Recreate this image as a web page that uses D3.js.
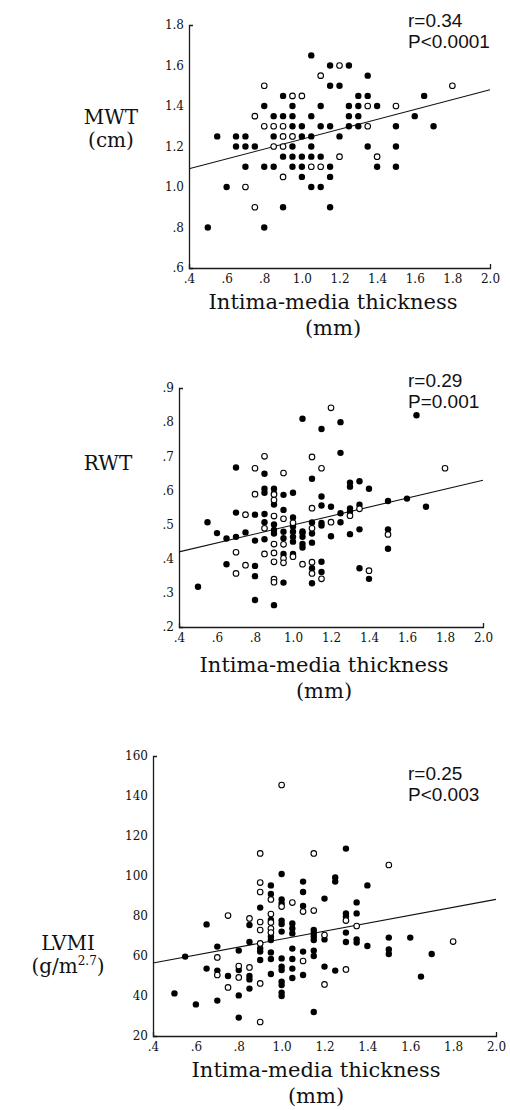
<!DOCTYPE html>
<html>
<head>
<meta charset="utf-8">
<script src="https://cdn.jsdelivr.net/npm/d3@7/dist/d3.min.js"></script>
<style>
  html, body { margin: 0; padding: 0; background: #fff; }
  svg { display: block; }
</style>
</head>
<body>
<svg id="chart" width="510" height="1110"></svg>
<script>
// ---------- DATA ----------
const xTickValues = [0.4, 0.6, 0.8, 1.0, 1.2, 1.4, 1.6, 1.8, 2.0];
const xTickLabels = [".4", ".6", ".8", "1.0", "1.2", "1.4", "1.6", "1.8", "2.0"];

const mwtTickValues = [0.6, 0.8, 1.0, 1.2, 1.4, 1.6, 1.8];
const mwtTickLabels = [".6", ".8", "1.0", "1.2", "1.4", "1.6", "1.8"];
const rwtTickValues = [0.2, 0.3, 0.4, 0.5, 0.6, 0.7, 0.8, 0.9];
const rwtTickLabels = [".2", ".3", ".4", ".5", ".6", ".7", ".8", ".9"];
const lvmiTickValues = [20, 40, 60, 80, 100, 120, 140, 160];
const lvmiTickLabels = ["20", "40", "60", "80", "100", "120", "140", "160"];

// MWT (cm) vs IMT (mm)
const mwtFilled = [
  [1.05,1.65],[1.15,1.6],[1.25,1.6],[1.35,1.55],[1.15,1.5],[1.2,1.5],
  [0.9,1.45],[1.3,1.45],[1.35,1.45],[1.65,1.45],
  [0.8,1.4],[0.95,1.4],[1.1,1.4],[1.25,1.4],[1.3,1.4],[1.4,1.4],
  [0.85,1.35],[0.9,1.35],[0.95,1.35],[1.05,1.35],[1.25,1.35],[1.3,1.35],[1.6,1.35],
  [0.95,1.3],[1.0,1.3],[1.1,1.3],[1.15,1.3],[1.25,1.3],[1.3,1.3],[1.5,1.3],[1.7,1.3],
  [0.55,1.25],[0.65,1.25],[0.7,1.25],[0.85,1.25],[1.0,1.25],[1.05,1.25],[1.2,1.25],
  [0.65,1.2],[0.7,1.2],[0.75,1.2],[0.95,1.2],[1.05,1.2],[1.35,1.2],[1.5,1.2],
  [0.9,1.15],[0.95,1.15],[1.0,1.15],[1.05,1.15],[1.1,1.15],
  [0.7,1.1],[0.8,1.1],[0.85,1.1],[0.95,1.1],[1.0,1.1],[1.15,1.1],[1.4,1.1],[1.5,1.1],
  [1.0,1.05],[1.15,1.05],[0.6,1.0],[1.05,1.0],[1.1,1.0],
  [0.9,0.9],[1.15,0.9],[0.5,0.8],[0.8,0.8]
];
const mwtOpen = [
  [1.2,1.6],[1.1,1.55],[0.8,1.5],[1.8,1.5],[0.95,1.45],[1.0,1.45],[1.35,1.4],[1.5,1.4],[0.75,1.35],
  [0.8,1.3],[0.85,1.3],[0.9,1.3],[1.35,1.3],[0.9,1.25],[0.95,1.25],[0.85,1.2],[0.9,1.2],
  [1.2,1.15],[1.4,1.15],[1.05,1.1],[1.1,1.1],[0.9,1.05],[0.7,1.0],[0.75,0.9]
];
const mwtFit = [[0.4, 1.09], [2.0, 1.48]];
const mwtStats = ["r=0.34", "P<0.0001"];

// RWT vs IMT
const rwtFilled = [
  [1.65,0.82],[1.05,0.81],[1.25,0.80],[1.15,0.78],[1.25,0.71],
  [0.7,0.667],[0.85,0.649],[1.1,0.634],[1.3,0.623],[1.35,0.627],[1.3,0.611],[1.4,0.605],
  [0.85,0.605],[0.9,0.605],[0.85,0.593],[0.9,0.591],[0.95,0.587],[1.0,0.593],[1.15,0.582],
  [0.9,0.559],[1.15,0.556],[1.2,0.552],[1.3,0.547],[1.35,0.558],[1.5,0.569],[1.6,0.576],[1.7,0.552],
  [1.3,0.538],[1.25,0.533],[0.7,0.535],[0.8,0.529],[0.85,0.531],[0.95,0.543],[1.0,0.521],
  [1.05,0.48],[1.1,0.506],[1.15,0.505],[1.15,0.497],[1.25,0.507],[0.55,0.507],
  [0.6,0.475],[0.65,0.459],[0.7,0.464],[0.75,0.477],[0.8,0.453],[0.85,0.507],[0.85,0.457],
  [0.9,0.5],[0.9,0.484],[0.9,0.474],[0.95,0.479],[0.95,0.46],[0.95,0.414],[0.95,0.33],
  [1.0,0.494],[1.0,0.479],[1.0,0.464],[1.0,0.45],[1.0,0.414],
  [1.05,0.476],[1.05,0.464],[1.05,0.443],[1.05,0.433],
  [1.1,0.474],[1.1,0.447],[1.1,0.372],[1.1,0.328],
  [1.15,0.391],[1.15,0.361],[1.2,0.466],[1.3,0.472],[1.35,0.486],[1.35,0.372],[1.4,0.341],
  [1.5,0.486],[1.5,0.429],[0.5,0.318],[0.65,0.384],[0.8,0.379],[0.8,0.349],[0.8,0.279],[0.9,0.264]
];
const rwtOpen = [
  [1.2,0.842],[0.85,0.70],[1.1,0.698],[0.8,0.665],[1.15,0.665],[1.8,0.665],[0.95,0.651],
  [0.8,0.589],[0.9,0.588],[0.9,0.572],[1.1,0.548],[1.35,0.546],[1.3,0.526],[0.75,0.529],[0.9,0.525],
  [0.95,0.517],[1.0,0.505],[1.2,0.507],[0.85,0.489],[0.9,0.443],[0.95,0.442],[0.95,0.401],[0.95,0.388],
  [1.0,0.406],[1.05,0.384],[1.1,0.489],[1.1,0.39],[1.1,0.357],[1.15,0.341],[1.4,0.365],[1.5,0.471],
  [0.7,0.419],[0.7,0.357],[0.75,0.381],[0.85,0.414],[0.9,0.417],[0.9,0.391],[0.9,0.34],[0.9,0.331]
];
const rwtFit = [[0.4, 0.42], [2.0, 0.63]];
const rwtStats = ["r=0.29", "P=0.001"];

// LVMI vs IMT
const lvmiFilled = [
  [1.3,113.7],[1.0,101],[1.25,99.3],[1.25,97.2],[1.1,97.2],[0.95,95.3],[1.4,95.3],[1.1,92],[0.95,91],
  [1.0,88.3],[1.2,88.7],[1.35,86.8],[1.0,86.3],[0.9,84.2],[1.1,85],[1.3,81.3],[1.35,81.3],[0.95,78],
  [1.3,79.7],[1.0,77.7],[1.0,76],[0.85,75.5],[1.05,76.3],[1.05,73.8],[1.05,71.3],[0.65,75.8],[1.0,72.2],
  [1.15,73],[1.15,71.3],[1.15,69.7],[1.15,68],[1.2,68.3],[1.3,71.7],[1.3,67],[1.35,68.3],[1.35,66.7],
  [0.95,69.7],[0.95,68],[1.5,69.2],[1.6,69.2],[1.4,65],[0.85,67],[0.9,63.8],[0.9,62.2],[1.5,63.3],[1.5,61],
  [1.7,61],[0.55,59.7],[0.7,64.7],[0.8,62.7],[0.9,58],[0.95,61.8],[0.95,58.5],[1.0,58.8],[1.05,63.7],[1.05,58.5],
  [1.1,62.2],[1.15,62.7],[1.15,60],[0.65,53.7],[0.7,52.7],[0.75,50],[0.8,53],[0.85,50],[0.85,48.3],[0.95,51],
  [1.0,54.7],[1.0,53],[1.05,53.7],[1.1,50.5],[1.05,49],[1.2,54.7],[1.25,52.7],[1.65,49.7],[0.85,43.7],
  [1.0,47.2],[1.0,45.5],[1.0,41.7],[1.0,40],[0.5,41.3],[0.8,40.3],[0.6,35.8],[0.7,37.7],[0.8,29.2],[1.15,32]
];
const lvmiOpen = [
  [1.0,145.5],[0.9,111.3],[1.15,111.3],[1.5,105.5],[0.9,96.7],[0.9,92],[0.95,88.3],[1.05,86.7],[1.0,84.7],
  [1.1,82.2],[1.15,82.7],[0.95,81],[0.75,80.2],[0.85,78.8],[1.3,77.7],[0.9,77],[0.95,76.7],[0.9,73],[0.95,73.7],
  [0.95,71.7],[1.35,75],[1.2,70.5],[1.8,67.2],[0.9,66.3],[0.7,59.3],[1.1,57.5],[0.7,50.5],[0.8,55],[0.85,54.3],
  [0.8,49.3],[1.3,53.3],[0.9,46.3],[0.75,44.3],[1.2,45.8],[0.9,27]
];
const lvmiFit = [[0.4, 56.5], [2.0, 88.3]];
const lvmiStats = ["r=0.25", "P<0.003"];

const xTitle = ["Intima-media thickness", "(mm)"];

// ---------- DRAW ----------
const svg = d3.select("#chart");
const serif = "'DejaVu Serif', serif";
const sans = "'Liberation Sans', Arial, sans-serif";

function panel(cfg) {
  const x = d3.scaleLinear().domain([0.4, 2.0]).range([cfg.left, cfg.right]);
  const y = d3.scaleLinear().domain(cfg.yDomain).range([cfg.bottom, cfg.top]);
  const g = svg.append("g");

  const xAxis = d3.axisBottom(x)
    .tickValues(xTickValues)
    .tickFormat((d, i) => xTickLabels[i])
    .tickSizeInner(0).tickSizeOuter(-4).tickPadding(6);
  const yAxis = d3.axisLeft(y)
    .tickValues(cfg.yTicks)
    .tickFormat((d, i) => cfg.yLabels[i])
    .tickSizeInner(0).tickSizeOuter(-4).tickPadding(5);

  const gx = g.append("g").attr("transform", `translate(0,${cfg.bottom})`).call(xAxis);
  const gy = g.append("g").attr("transform", `translate(${cfg.left},0)`).call(yAxis);
  [gx, gy].forEach(a => {
    a.select(".domain").attr("stroke", "#1a1a1a").attr("stroke-width", 1.3);
    a.selectAll("text").attr("font-family", serif).attr("font-size", 12).attr("fill", "#111");
  });

  // regression line
  const line = d3.line().x(d => x(d[0])).y(d => y(d[1]));
  g.append("path").datum(cfg.fit).attr("d", line)
    .attr("fill", "none").attr("stroke", "#111").attr("stroke-width", 1.1);

  // points
  g.selectAll(".f").data(cfg.filled).enter().append("circle")
    .attr("cx", d => x(d[0])).attr("cy", d => y(d[1])).attr("r", 3.2)
    .attr("fill", "#000");
  g.selectAll(".o").data(cfg.open).enter().append("circle")
    .attr("cx", d => x(d[0])).attr("cy", d => y(d[1])).attr("r", 2.8)
    .attr("fill", "#fff").attr("stroke", "#000").attr("stroke-width", 1.1);

  // stats annotation
  cfg.stats.forEach((s, i) => {
    g.append("text").attr("x", 408).attr("y", cfg.statY + i * 21)
      .attr("font-family", sans).attr("font-size", 19).attr("fill", "#111").text(s);
  });

  // x title
  xTitle.forEach((s, i) => {
    g.append("text").attr("x", cfg.xTitleX).attr("y", cfg.xTitleY + i * 26)
      .attr("text-anchor", "middle").attr("font-family", serif).attr("font-size", 21)
      .attr("fill", "#111").text(s);
  });

  // y title
  cfg.yTitle.forEach((s, i) => {
    const t = g.append("text").attr("x", cfg.yTitleX).attr("y", cfg.yTitleY + i * 23)
      .attr("text-anchor", "middle").attr("font-family", serif).attr("font-size", 20)
      .attr("fill", "#111");
    if (Array.isArray(s)) {
      t.append("tspan").text(s[0]);
      t.append("tspan").attr("font-size", 12).attr("dy", -8).text(s[1]);
      t.append("tspan").attr("dy", 8).text(s[2]);
    } else {
      t.text(s);
    }
  });
}

panel({
  left: 189, right: 490, top: 25, bottom: 268,
  yDomain: [0.6, 1.8], yTicks: mwtTickValues, yLabels: mwtTickLabels,
  filled: mwtFilled, open: mwtOpen, fit: mwtFit, stats: mwtStats, statY: 27,
  xTitleX: 333, xTitleY: 309,
  yTitle: ["MWT", "(cm)"], yTitleX: 111, yTitleY: 124
});
panel({
  left: 179, right: 483, top: 388, bottom: 627,
  yDomain: [0.2, 0.9], yTicks: rwtTickValues, yLabels: rwtTickLabels,
  filled: rwtFilled, open: rwtOpen, fit: rwtFit, stats: rwtStats, statY: 387,
  xTitleX: 324, xTitleY: 672,
  yTitle: ["RWT"], yTitleX: 108, yTitleY: 470
});
panel({
  left: 153, right: 496, top: 756, bottom: 1036,
  yDomain: [20, 160], yTicks: lvmiTickValues, yLabels: lvmiTickLabels,
  filled: lvmiFilled, open: lvmiOpen, fit: lvmiFit, stats: lvmiStats, statY: 780,
  xTitleX: 316, xTitleY: 1077,
  yTitle: ["LVMI", ["(g/m", "2.7", ")"]], yTitleX: 68, yTitleY: 950
});
</script>
</body>
</html>
